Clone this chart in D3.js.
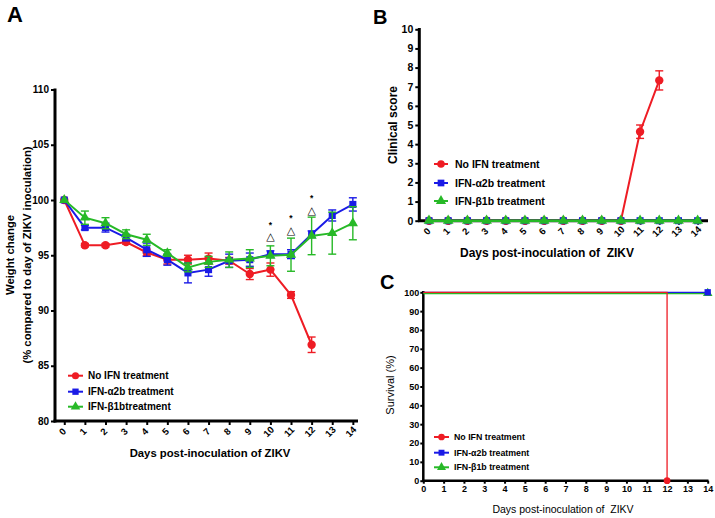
<!DOCTYPE html>
<html><head><meta charset="utf-8">
<script src="https://cdn.jsdelivr.net/npm/d3@7/dist/d3.min.js"></script>
<style>
body{margin:0;background:#fff;}
svg{display:block;font-family:"Liberation Sans",Arial,sans-serif;font-weight:bold;}
</style></head><body>
<svg id="c" width="715" height="518"></svg>
<script>
// ---------- DATA ----------
const days = [0,1,2,3,4,5,6,7,8,9,10,11,12,13,14];
const seriesNames = ["No IFN treatment","IFN-\u03b12b treatment","IFN-\u03b21btreatment"];
const seriesNamesB = ["No IFN treatment","IFN-\u03b12b treatment","IFN-\u03b21b treatment"];
// Panel A: weight change (%)
const weightNoIFN = [100,95.9,95.9,96.2,95.25,94.6,94.6,94.7,94.5,93.3,93.7,91.4,86.9];
const weightNoIFNErr = [0,0.15,0.15,0.2,0.3,0.4,0.4,0.5,0.3,0.5,0.6,0.3,0.7];
const weightAlpha = [100,97.5,97.5,96.6,95.5,94.6,93.4,93.7,94.5,94.6,95.1,95.1,96.9,98.6,99.6];
const weightAlphaErr = [0,0.2,0.4,0.3,0.6,0.5,0.9,0.6,0.6,0.6,0.3,0.4,0.3,0.5,0.6];
const weightBeta = [100,98.4,97.9,96.9,96.4,95.2,93.9,94.4,94.6,94.7,94.95,95.05,96.75,97.0,97.9];
const weightBetaErr = [0,0.6,0.5,0.4,0.5,0.3,0.4,0.5,0.7,0.8,0.9,1.5,1.7,1.9,1.5];
const sigDays = [10,11,12];
const sigLevel = [96.8,97.4,99.2];
const weightTicks = [80,85,90,95,100,105,110];
// Panel B: clinical score
const clinNoIFN = [0,0,0,0,0,0,0,0,0,0,0,4.65,7.33];
const clinNoIFNErr = [0,0,0,0,0,0,0,0,0,0,0,0.35,0.5];
const clinAlpha = [0,0,0,0,0,0,0,0,0,0,0,0,0,0,0];
const clinBeta = [0,0,0,0,0,0,0,0,0,0,0,0,0,0,0];
const clinTicks = [0,1,2,3,4,5,6,7,8,9,10];
// Panel C: survival (%)
const survNoIFNDays = [0,12,12];
const survNoIFN = [100,100,0];
const survAlphaDays = [0,14];
const survAlpha = [100,100];
const survBetaDays = [0,14];
const survBeta = [100,100];
const survTicks = [0,10,20,30,40,50,60,70,80,90,100];

const RED="#ee1c24", BLUE="#1a1ae6", GREEN="#27b927";
const colors=[RED,BLUE,GREEN];
const shapes=[d3.symbolCircle,d3.symbolSquare,d3.symbolTriangle];

const svg=d3.select("#c");

function marker(g,shape,color,x,y,size){
  g.append("path").attr("d",d3.symbol().type(shape).size(size)())
   .attr("transform",`translate(${x},${y})`).attr("fill",color);
}
function drawSeries(g,x,y,dayArr,vals,errs,color,shape,size,lw){
  const pts=vals.map((v,i)=>({d:dayArr[i],v:v,e:errs?errs[i]:0}));
  g.append("path").datum(pts).attr("fill","none").attr("stroke",color).attr("stroke-width",lw)
   .attr("d",d3.line().x(p=>x(p.d)).y(p=>y(p.v)));
  pts.forEach(p=>{
    if(p.e>0){
      const x0=x(p.d);
      g.append("line").attr("x1",x0).attr("x2",x0).attr("y1",y(p.v-p.e)).attr("y2",y(p.v+p.e)).attr("stroke",color).attr("stroke-width",1.4);
      [p.v-p.e,p.v+p.e].forEach(vv=>g.append("line").attr("x1",x0-4).attr("x2",x0+4).attr("y1",y(vv)).attr("y2",y(vv)).attr("stroke",color).attr("stroke-width",1.4));
    }
    marker(g,shape,color,x(p.d),y(p.v),size);
  });
}
function legend(g,names,x0,len,tx,ys,fs,shapeSize){
  names.forEach((n,i)=>{
    g.append("line").attr("x1",x0).attr("x2",x0+len).attr("y1",ys[i]).attr("y2",ys[i]).attr("stroke",colors[i]).attr("stroke-width",2);
    marker(g,shapes[i],colors[i],x0+len/2,ys[i],shapeSize);
    g.append("text").attr("x",tx).attr("y",ys[i]).attr("dy","0.35em").attr("font-size",fs).text(n);
  });
}

// ---------- PANEL A ----------
{
  const g=svg.append("g");
  const x=d3.scaleLinear().domain([-0.45,14.25]).range([55,358]);
  const y=d3.scaleLinear().domain([80,110]).range([421,89.5]);
  const ya=g.append("g").attr("transform","translate(55,0)")
    .call(d3.axisLeft(y).tickValues(weightTicks).tickSize(4).tickSizeOuter(0).tickPadding(2));
  ya.select(".domain").remove();
  ya.selectAll("text").attr("font-size",10);
  ya.selectAll("line").attr("stroke-width",2);
  const xa=g.append("g").attr("transform","translate(0,421)")
    .call(d3.axisBottom(x).tickValues(days).tickSize(4).tickSizeOuter(0));
  xa.select(".domain").remove();
  xa.selectAll("line").attr("stroke-width",2);
  xa.selectAll("text").attr("font-size",9.5).attr("text-anchor","middle")
    .attr("y",0).attr("dy",0)
    .attr("transform","translate(0,13) rotate(-45)");
  g.append("line").attr("x1",55).attr("x2",55).attr("y1",y(110)-1).attr("y2",422.5).attr("stroke","#000").attr("stroke-width",3);
  g.append("line").attr("x1",53.5).attr("x2",358).attr("y1",421).attr("y2",421).attr("stroke","#000").attr("stroke-width",3);
  drawSeries(g,x,y,days,weightNoIFN,weightNoIFNErr,RED,d3.symbolCircle,55,2);
  drawSeries(g,x,y,days,weightAlpha,weightAlphaErr,BLUE,d3.symbolSquare,50,2);
  drawSeries(g,x,y,days,weightBeta,weightBetaErr,GREEN,d3.symbolTriangle,45,2);
  // significance marks: "*" above "△"
  sigDays.forEach((d,i)=>{
    g.append("text").attr("x",x(d)).attr("y",y(sigLevel[i])+5).attr("text-anchor","middle")
      .style("font-family","DejaVu Sans").attr("font-size",11).text("\u25b3");
    g.append("text").attr("x",x(d)).attr("y",y(sigLevel[i])-7.5).attr("text-anchor","middle")
      .attr("font-size",8.5).text("*");
  });
  legend(g,seriesNames,68,15,88,[375.7,391.7,406.7],10,40);
  g.append("text").attr("x",210).attr("y",457).attr("text-anchor","middle").attr("font-size",11.3).text("Days post-inoculation of ZIKV");
  g.append("text").attr("transform","translate(14,255) rotate(-90)").attr("text-anchor","middle").attr("font-size",11.3).text("Weight change");
  g.append("text").attr("transform","translate(31,255) rotate(-90)").attr("text-anchor","middle").attr("font-size",11.3).text("(% compared to day of ZIKV inoculation)");
  g.append("text").attr("x",7).attr("y",22).attr("font-size",22).text("A");
}

// ---------- PANEL B ----------
{
  const g=svg.append("g");
  const x=d3.scaleLinear().domain([-0.505,14.54]).range([419.3,708]);
  const y=d3.scaleLinear().domain([0,10]).range([220.7,29.3]);
  const ya=g.append("g").attr("transform","translate(419.3,0)")
    .call(d3.axisLeft(y).tickValues(clinTicks).tickSize(4).tickSizeOuter(0).tickPadding(2));
  ya.select(".domain").remove();
  ya.selectAll("text").attr("font-size",10.5);
  ya.selectAll("line").attr("stroke-width",2);
  const xa=g.append("g").attr("transform","translate(0,220.7)")
    .call(d3.axisBottom(x).tickValues(days).tickSize(4).tickSizeOuter(0));
  xa.select(".domain").remove();
  xa.selectAll("line").attr("stroke-width",2);
  xa.selectAll("text").attr("font-size",9.5).attr("text-anchor","middle").attr("y",0).attr("dy",0)
    .attr("transform","translate(0,13) rotate(-45)");
  g.append("line").attr("x1",419.3).attr("x2",419.3).attr("y1",28).attr("y2",222).attr("stroke","#000").attr("stroke-width",3);
  g.append("line").attr("x1",418).attr("x2",708).attr("y1",220.7).attr("y2",220.7).attr("stroke","#000").attr("stroke-width",3);
  drawSeries(g,x,y,days,clinNoIFN,clinNoIFNErr,RED,d3.symbolCircle,55,2);
  drawSeries(g,x,y,days,clinAlpha,null,BLUE,d3.symbolSquare,50,2);
  drawSeries(g,x,y,days,clinBeta,null,GREEN,d3.symbolTriangle,50,2.5);
  legend(g,seriesNamesB,434,14,455,[164,183,201],10.5,45);
  g.append("text").attr("x",547).attr("y",257).attr("text-anchor","middle").attr("font-size",12).attr("xml:space","preserve").text("Days post-inoculation of  ZIKV");
  g.append("text").attr("transform","translate(397,125) rotate(-90)").attr("text-anchor","middle").attr("font-size",12).text("Clinical score");
  g.append("text").attr("x",373).attr("y",24).attr("font-size",20).text("B");
}

// ---------- PANEL C ----------
{
  const g=svg.append("g");
  const x=d3.scaleLinear().domain([0,14]).range([423.3,707.7]);
  const y=d3.scaleLinear().domain([0,100]).range([480.7,292.3]);
  const ya=g.append("g").attr("transform","translate(423.3,0)")
    .call(d3.axisLeft(y).tickValues(survTicks).tickSize(3).tickSizeOuter(0).tickPadding(1));
  ya.select(".domain").remove();
  ya.selectAll("text").attr("font-size",9);
  ya.selectAll("line").attr("stroke-width",2);
  const xa=g.append("g").attr("transform","translate(0,480.7)")
    .call(d3.axisBottom(x).tickValues(days).tickSize(3).tickSizeOuter(0).tickPadding(2));
  xa.select(".domain").remove();
  xa.selectAll("text").attr("font-size",9);
  xa.selectAll("line").attr("stroke-width",2);
  g.append("line").attr("x1",423.3).attr("x2",423.3).attr("y1",291).attr("y2",482).attr("stroke","#000").attr("stroke-width",2.5);
  g.append("line").attr("x1",422).attr("x2",708.5).attr("y1",480.7).attr("y2",480.7).attr("stroke","#000").attr("stroke-width",2.5);
  const line=d3.line().x(p=>x(p[0])).y(p=>y(p[1]));
  g.append("path").datum(survBetaDays.map((d,i)=>[d,survBeta[i]])).attr("transform","translate(0,1.2)")
    .attr("fill","none").attr("stroke",GREEN).attr("stroke-width",1.3).attr("d",line);
  g.append("path").datum(survAlphaDays.map((d,i)=>[d,survAlpha[i]]))
    .attr("fill","none").attr("stroke",BLUE).attr("stroke-width",1.3).attr("d",line);
  g.append("path").datum(survNoIFNDays.map((d,i)=>[d,survNoIFN[i]]))
    .attr("fill","none").attr("stroke",RED).attr("stroke-width",1.3).attr("d",line);
  marker(g,d3.symbolTriangle,GREEN,x(survBetaDays[1]),y(survBeta[1])+1,40);
  marker(g,d3.symbolSquare,BLUE,x(survAlphaDays[1]),y(survAlpha[1]),40);
  marker(g,d3.symbolCircle,RED,x(survNoIFNDays[2]),y(survNoIFN[2]),35);
  legend(g,seriesNamesB,434,15,454,[437,452.7,467.3],8.8,35);
  g.append("text").attr("x",563).attr("y",513).attr("text-anchor","middle").attr("font-size",10.5).style("font-weight","normal").attr("xml:space","preserve").text("Days post-inoculation of  ZIKV");
  g.append("text").attr("transform","translate(394,385) rotate(-90)").attr("text-anchor","middle").attr("font-size",11).style("font-weight","normal").text("Survival (%)");
  g.append("text").attr("x",380).attr("y",289).attr("font-size",20).text("C");
}
</script>
</body></html>
